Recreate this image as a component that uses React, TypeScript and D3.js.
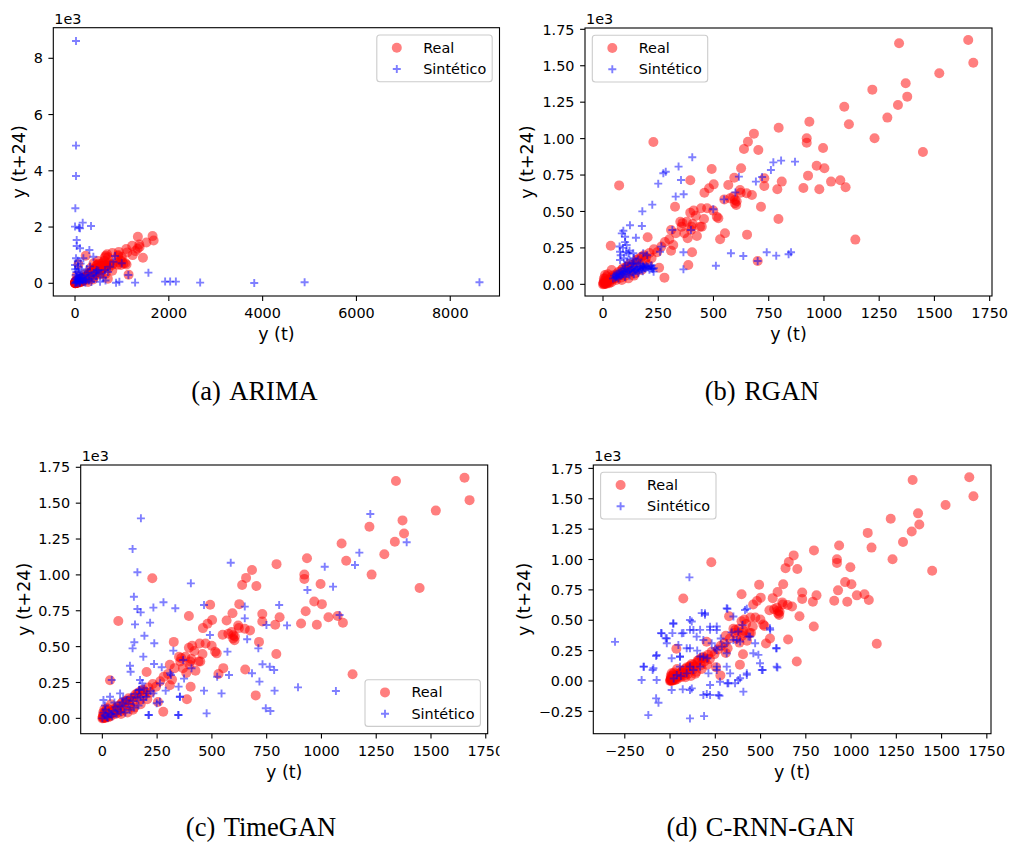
import React from 'react';
import * as d3 from 'd3';

type Pt = [number, number];

// Real series (shared by all four panels): [y(t), y(t+24)]
const realPoints: Pt[] = [
  [1653,1677],[1676,1521],[1340,1654],[1522,1448],[1370,1380],[1377,1288],[1335,1231],[1219,1336],
  [1287,1144],[1092,1219],[1113,1098],[1229,1002],[1448,908],[934,1116],[922,1002],[922,972],
  [996,936],[795,1075],[683,1034],[656,979],[638,929],[703,922],[967,814],[1002,796],[928,746],
  [1032,705],[1074,714],[1098,666],[907,661],[979,652],[809,705],[789,652],[794,448],[1142,307],
  [730,728],[730,675],[700,160],[625,796],[594,732],[492,792],[501,686],[480,659],[459,629],
  [395,714],[228,977],[73,679],[35,265],[202,323],[326,533],[278,46],[254,114],[264,259],[308,231],
  [318,270],[308,373],[350,430],[356,396],[368,350],[383,316],[398,373],[403,220],[386,133],
  [425,332],[395,492],[410,506],[444,522],[471,522],[457,448],[499,506],[522,453],[530,309],
  [552,350],[406,414],[447,396],[549,583],[590,602],[597,556],[605,570],[623,629],[650,625],
  [674,613],[652,341],[715,533],[567,682],[620,647],[575,590],[597,579],[603,544],[515,464],
  [439,396],[401,396],[379,430],[420,470],[360,420],
  [0,0],[3,5],[6,2],[8,10],[12,6],[15,18],[5,25],[20,12],[25,30],[10,40],[30,20],[35,45],[40,35],
  [18,55],[45,60],[50,50],[55,40],[60,70],[65,55],[70,85],[75,65],[24,30],[9,64],[47,41],[69,64],
  [39,98],[84,98],[115,41],[107,121],[130,133],[152,167],[175,190],[145,75],[175,98],[205,133],
  [90,110],[100,95],[110,120],[120,140],[135,120],[150,150],[160,175],[185,200],[195,185],
  [210,215],[230,240],[245,220],[100,60],[80,45],[60,30],[125,90],[2,12],[14,2],[28,8],[38,15],
  [4,40],[22,70],[85,30],[140,60],[170,130],[190,160],[220,180],[280,290],[300,310],[330,350],
];

// (a) ARIMA synthetic
const arimaPoints: Pt[] = [
  [21,8616],[21,4895],[21,3816],[7,2667],[0,2015],[85,1979],[164,2157],[341,2039],[107,1956],
  [36,1541],[36,1327],[107,1244],[306,1185],[178,889],[21,889],[0,652],[71,593],[8623,36],
  [4895,36],[3821,12],[2668,24],[2150,60],[2028,60],[1921,60],[1281,24],[1565,379],[391,946],
  [854,971],[818,768],[996,711],[1138,295],[875,21],[946,57],[534,57],[640,473],[747,590],[463,473],
  [0,0],[20,50],[40,100],[60,150],[80,200],[100,250],[120,300],[50,20],[100,60],[150,100],[200,150],
  [250,200],[300,250],[350,300],[400,350],[450,400],[500,450],[30,400],[60,500],[90,350],[150,450],
  [200,300],[250,500],[300,100],[350,50],[400,150],[450,250],[550,350],[600,200],[650,100],
  [700,400],[10,150],[15,300],[5,500],[180,50],[220,20],[280,380],[320,600],[120,700],[60,800],
  [30,30],[70,90],[110,40],[160,200],[230,120],[90,20],[40,220],[130,170],
];

// (b) RGAN synthetic
const rganPoints: Pt[] = [
  [404,872],[342,808],[284,773],[273,762],[250,691],[353,716],[329,602],[365,618],[223,547],
  [178,501],[176,400],[122,405],[92,368],[100,327],[149,320],[107,270],[115,213],[77,224],
  [137,213],[182,213],[77,167],[137,144],[182,121],[220,110],[229,87],[258,224],[264,259],
  [314,373],[398,373],[364,220],[364,103],[499,515],[548,583],[599,631],[615,739],[692,705],
  [720,737],[760,785],[771,837],[806,849],[869,842],[579,213],[635,194],[700,160],[741,220],
  [784,197],[840,206],[851,220],[511,128],
  [50,60],[60,70],[70,80],[80,90],[90,100],[100,110],[110,90],[120,100],[130,110],[140,120],
  [150,100],[160,110],[170,120],[180,130],[190,110],[200,120],[210,100],[220,130],[230,110],
  [60,50],[70,40],[80,60],[90,70],[100,130],[110,150],[120,170],[80,200],[90,250],[100,290],
  [85,350],[75,260],[95,180],[105,220],[120,230],[140,180],[160,170],[200,200],[180,90],[160,80],
  [140,70],[120,60],[100,50],[130,140],[150,150],[170,140],[55,45],[65,55],[75,65],[45,40],
  [85,75],[95,85],[105,75],[115,85],[125,95],[135,85],[145,95],[155,105],[165,95],[175,105],
  [185,115],[195,125],[205,115],[215,125],[225,105],
];

// (c) TimeGAN synthetic
const timeganPoints: Pt[] = [
  [176,1394],[138,1181],[160,1018],[144,848],[160,762],[175,739],[149,655],[218,667],[233,772],
  [279,809],[333,767],[192,576],[146,530],[138,488],[237,523],[187,430],[126,367],[129,325],
  [236,379],[271,356],[182,244],[167,198],[175,151],[43,267],[233,174],[263,116],[289,193],
  [213,23],[324,472],[313,302],[348,221],[348,23],[354,151],[373,277],[369,407],[407,349],
  [404,941],[464,790],[491,581],[464,193],[476,35],[524,290],[544,174],[571,465],[578,302],
  [586,1085],[650,779],[650,697],[661,551],[683,314],[712,488],[717,256],[731,377],[746,70],
  [767,51],[749,651],[764,360],[784,337],[786,193],[807,790],[843,648],[893,216],[936,895],
  [1015,1057],[1053,918],[1066,191],[1083,720],[1153,1069],[1173,1155],[1223,1424],[1389,1227],
  [5,128],[35,151],[81,174],[172,267],[202,174],[187,128],[263,244],[309,314],[354,151],[346,23],
  [210,23],[248,105],[0,0],[10,20],[20,10],[30,40],[40,30],[15,60],[50,50],[60,80],[70,60],
  [80,90],[90,110],[100,80],[110,130],[120,100],[130,150],[140,120],[150,170],[160,140],[25,5],
  [45,15],[65,30],[85,45],[5,40],[12,90],[55,110],[95,140],[105,40],[125,60],[145,75],[170,200],
  [190,210],[165,90],[200,150],[220,190],
];

// (d) C-RNN-GAN synthetic
const crnnganPoints: Pt[] = [
  [-304,322],[107,853],[-157,8],[-120,-281],[-77,-143],[-64,-179],[-144,118],[-96,91],[-77,206],
  [-74,8],[-50,394],[-24,352],[-18,311],[9,187],[18,471],[13,394],[46,297],[74,394],[120,490],
  [110,421],[175,559],[193,545],[166,421],[221,421],[258,449],[230,311],[317,594],[350,531],
  [424,594],[110,270],[55,201],[166,201],[206,187],[258,256],[313,311],[350,338],[377,407],
  [387,325],[470,311],[488,215],[512,91],[553,421],[586,270],[593,110],[110,-308],[188,-289],
  [221,-116],[273,-121],[184,-116],[9,-74],[70,-69],[120,-61],[221,-33],[276,-6],[317,-19],
  [359,-19],[387,22],[405,-88],[424,50],[332,63],[258,91],[166,118],[92,63],[129,91],[37,50],
  [497,146],[433,366],
  [193,557],[313,598],[414,584],[18,475],[110,502],[-46,392],[-18,351],[65,392],[129,420],
  [147,365],[221,447],[258,420],[184,337],[55,200],[92,269],[110,118],[184,200],[249,269],
  [286,283],[313,228],[368,337],[442,365],[460,228],[552,434],[589,269],[507,91],[589,118],
  [-147,118],[-92,105],[-74,214],[110,-74],[203,-107],[267,-115],[322,-19],[377,8],[424,63],
  [313,118],[258,118],[212,63],[55,118],[150,250],[280,350],[340,400],[400,460],[20,20],[60,40],
];

const arimaXTicks = [0, 2000, 4000, 6000, 8000];
const arimaYTicks = [0, 2000, 4000, 6000, 8000];
const ganXTicks = [0, 250, 500, 750, 1000, 1250, 1500, 1750];
const ganYTicks = [0, 250, 500, 750, 1000, 1250, 1500, 1750];
const crnnXTicks = [-250, 0, 250, 500, 750, 1000, 1250, 1500, 1750];
const crnnYTicks = [-250, 0, 250, 500, 750, 1000, 1250, 1500, 1750];

const legendLabels = ['Real', 'Sintético'];
const xLabel = 'y (t)';
const yLabel = 'y (t+24)';
const offsetLabel = '1e3';

const minus = (s: string) => s.replace('-', '\u2212');
const fmtInt = (v: number) => minus(String(v));
const fmtK0 = (v: number) => minus(String(v / 1000));
const fmtK2 = (v: number) => minus((v / 1000).toFixed(2));

const FONT = 'DejaVu Sans, Verdana, sans-serif';
const SERIF = 'Liberation Serif, Times New Roman, serif';

interface PanelCfg {
  id: string;
  tag: string;
  name: string;
  capX: number;
  capY: number;
  synth: Pt[];
  left: number; right: number; top: number; bottom: number;
  xDomain: [number, number];
  yDomain: [number, number];
  xTicks: number[]; yTicks: number[];
  xFmt: (v: number) => string; yFmt: (v: number) => string;
  legend: 'tr' | 'tl' | 'br';
  yLabelX: number;
  xLabelY: number;
  clipRight?: number;
}

const panels: PanelCfg[] = [
  { id: 'a', tag: '(a)', name: 'ARIMA', capX: 254.5, capY: 400, synth: arimaPoints,
    left: 53.3, right: 499.5, top: 27.7, bottom: 296, xDomain: [-463, 9050], yDomain: [-452, 9088],
    xTicks: arimaXTicks, yTicks: arimaYTicks, xFmt: fmtInt, yFmt: fmtK0, legend: 'tr', yLabelX: 24.5, xLabelY: 340 },
  { id: 'b', tag: '(b)', name: 'RGAN', capX: 762, capY: 400, synth: rganPoints,
    left: 585, right: 992, top: 28, bottom: 296, xDomain: [-81.5, 1760.6], yDomain: [-80, 1759],
    xTicks: ganXTicks, yTicks: ganYTicks, xFmt: fmtInt, yFmt: fmtK2, legend: 'tl', yLabelX: 532.5, xLabelY: 340 },
  { id: 'c', tag: '(c)', name: 'TimeGAN', capX: 261, capY: 836, synth: timeganPoints,
    left: 80.7, right: 487.7, top: 465, bottom: 733.7, xDomain: [-98.8, 1758.8], yDomain: [-107, 1766],
    xTicks: ganXTicks, yTicks: ganYTicks, xFmt: fmtInt, yFmt: fmtK2, legend: 'br', yLabelX: 30, xLabelY: 778, clipRight: 499.5 },
  { id: 'd', tag: '(d)', name: 'C-RNN-GAN', capX: 760.5, capY: 836, synth: crnnganPoints,
    left: 593.3, right: 991, top: 465, bottom: 733.7, xDomain: [-424, 1773], yDomain: [-434, 1778],
    xTicks: crnnXTicks, yTicks: crnnYTicks, xFmt: fmtInt, yFmt: fmtK2, legend: 'tl', yLabelX: 530, xLabelY: 778 },
];

const RED = '#ff0000';
const BLUE = '#0000ff';
const R = 5;
const P = 4;

const plusPath = (cx: number, cy: number) => `M${cx - P},${cy}H${cx + P}M${cx},${cy - P}V${cy + P}`;

function Panel({ cfg }: { cfg: PanelCfg }) {
  const x = d3.scaleLinear().domain(cfg.xDomain).range([cfg.left, cfg.right]);
  const y = d3.scaleLinear().domain(cfg.yDomain).range([cfg.bottom, cfg.top]);
  const w = cfg.right - cfg.left;
  const h = cfg.bottom - cfg.top;
  const lw = 115.4, lh = 46.7, inset = 7.3;
  let lx = cfg.left + inset, ly = cfg.top + inset;
  if (cfg.legend === 'tr') lx = cfg.right - inset - lw;
  if (cfg.legend === 'br') { lx = cfg.right - inset - lw; ly = cfg.bottom - inset - lh; }
  const clipId = `clip-${cfg.id}`;
  const tickClip = `tclip-${cfg.id}`;
  const midY = (cfg.top + cfg.bottom) / 2;
  const midX = (cfg.left + cfg.right) / 2;
  return (
    <g>
      <defs>
        <clipPath id={clipId}><rect x={cfg.left} y={cfg.top} width={w} height={h} /></clipPath>
        <clipPath id={tickClip}><rect x={0} y={0} width={cfg.clipRight ?? 1009} height={842} /></clipPath>
      </defs>
      <g clipPath={`url(#${clipId})`}>
        {realPoints.map((d, i) => (
          <circle key={`r${i}`} cx={x(d[0])} cy={y(d[1])} r={R} fill={RED} fillOpacity={0.5} />
        ))}
        {cfg.synth.map((d, i) => (
          <path key={`s${i}`} d={plusPath(x(d[0]), y(d[1]))} stroke={BLUE} strokeOpacity={0.5} strokeWidth={1.9} fill="none" />
        ))}
      </g>
      <rect x={cfg.left} y={cfg.top} width={w} height={h} fill="none" stroke="#000" strokeWidth={1.1} />
      <g clipPath={`url(#${tickClip})`} fontFamily={FONT} fontSize={14.4} fill="#000">
        {cfg.xTicks.map((t) => (
          <g key={`xt${t}`}>
            <line x1={x(t)} x2={x(t)} y1={cfg.bottom} y2={cfg.bottom + 4.9} stroke="#000" strokeWidth={1.1} />
            <text x={x(t)} y={cfg.bottom + 22} textAnchor="middle">{cfg.xFmt(t)}</text>
          </g>
        ))}
        {cfg.yTicks.map((t) => (
          <g key={`yt${t}`}>
            <line x1={cfg.left - 4.9} x2={cfg.left} y1={y(t)} y2={y(t)} stroke="#000" strokeWidth={1.1} />
            <text x={cfg.left - 10.5} y={y(t) + 5.2} textAnchor="end">{cfg.yFmt(t)}</text>
          </g>
        ))}
        <text x={cfg.left + 1} y={cfg.top - 4.2}>{offsetLabel}</text>
      </g>
      <text x={midX} y={cfg.xLabelY} textAnchor="middle" fontFamily={FONT} fontSize={17.5}>{xLabel}</text>
      <text transform={`translate(${cfg.yLabelX},${midY}) rotate(-90)`} textAnchor="middle" fontFamily={FONT} fontSize={17.5}>{yLabel}</text>
      <g>
        <rect x={lx} y={ly} width={lw} height={lh} rx={3} fill="#fff" fillOpacity={0.8} stroke="#cccccc" strokeWidth={1.1} />
        <circle cx={lx + 20} cy={ly + 12.7} r={R} fill={RED} fillOpacity={0.5} />
        <path d={plusPath(lx + 20, ly + 34)} stroke={BLUE} strokeOpacity={0.5} strokeWidth={1.9} fill="none" />
        <text x={lx + 46.4} y={ly + 12.7 + 5} fontFamily={FONT} fontSize={14.4}>{legendLabels[0]}</text>
        <text x={lx + 46.4} y={ly + 34 + 5} fontFamily={FONT} fontSize={14.4}>{legendLabels[1]}</text>
      </g>
      <text x={cfg.capX} y={cfg.capY} textAnchor="middle" fontFamily={SERIF} fontSize={26.5}>
        <tspan>{cfg.tag}</tspan>
        <tspan dx={8.5}>{cfg.name}</tspan>
      </text>
    </g>
  );
}

export default function App() {
  return (
    <svg width={1009} height={842} viewBox="0 0 1009 842"
      style={{ position: 'absolute', left: 0, top: 0, display: 'block', background: '#fff' }}>
      <rect x={0} y={0} width={1009} height={842} fill="#fff" />
      {panels.map((p) => <Panel key={p.id} cfg={p} />)}
    </svg>
  );
}
